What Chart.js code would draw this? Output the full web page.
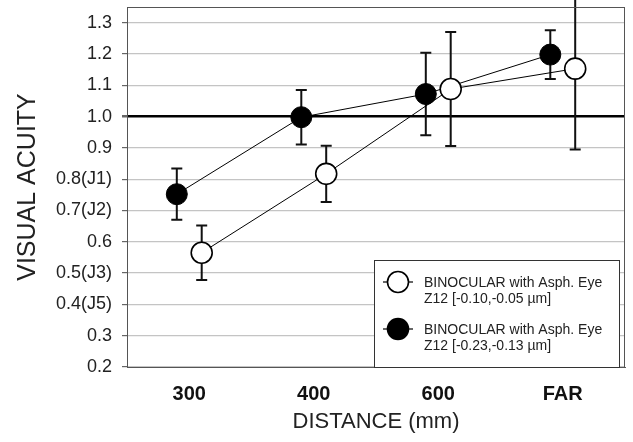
<!DOCTYPE html>
<html>
<head>
<meta charset="utf-8">
<script src="https://cdn.jsdelivr.net/npm/chart.js@4/dist/chart.umd.min.js"></script>
<style>
  html, body { margin: 0; padding: 0; background: #fff; }
  #wrap { width: 633px; height: 442px; }
</style>
</head>
<body>
<div id="wrap"><canvas id="chart" width="633" height="442"></canvas></div>
<script>
// --- Data ---
const categories = ["300", "400", "600", "FAR"];
const yTickValues = [0.2, 0.3, 0.4, 0.5, 0.6, 0.7, 0.8, 0.9, 1.0, 1.1, 1.2, 1.3];
const yTickLabels = ["0.2", "0.3", "0.4(J5)", "0.5(J3)", "0.6", "0.7(J2)", "0.8(J1)", "0.9", "1.0", "1.1", "1.2", "1.3"];

const openLabel = ["BINOCULAR with Asph. Eye", "Z12 [-0.10,-0.05 \u00b5m]"];
const openMeans = [0.565, 0.817, 1.088, 1.153];
const openErr = [0.087, 0.090, 0.182, 0.258];

const filledLabel = ["BINOCULAR with Asph. Eye", "Z12 [-0.23,-0.13 \u00b5m]"];
const filledMeans = [0.752, 0.998, 1.072, 1.198];
const filledErr = [0.082, 0.087, 0.132, 0.078];

// small horizontal shift so the two series don't overlap
const OPEN_SHIFT = 0.1;
const FILLED_SHIFT = -0.1;

function toPoints(means, errs, shift) {
  return means.map((v, i) => ({ x: i + 1 + shift, y: v, err: errs[i] }));
}

function noPadding(s) {
  s.paddingTop = 0;
  s.paddingBottom = 0;
  s.paddingLeft = 0;
  s.paddingRight = 0;
}

// --- Plugins ---
const errorBars = {
  id: "errorBars",
  beforeDatasetsDraw(chart) {
    const { ctx, scales: { x, y } } = chart;
    ctx.save();
    ctx.strokeStyle = "#111";
    ctx.lineWidth = 2;
    chart.data.datasets.forEach(ds => {
      ds.data.forEach(p => {
        const px = x.getPixelForValue(p.x);
        const top = y.getPixelForValue(p.y + p.err);
        const bot = y.getPixelForValue(p.y - p.err);
        ctx.beginPath();
        ctx.moveTo(px, top); ctx.lineTo(px, bot);
        ctx.moveTo(px - 5.5, top); ctx.lineTo(px + 5.5, top);
        ctx.moveTo(px - 5.5, bot); ctx.lineTo(px + 5.5, bot);
        ctx.stroke();
      });
    });
    ctx.restore();
  },
};

const frameAndLegend = {
  id: "frameAndLegend",
  afterDraw(chart) {
    const { ctx, chartArea: a } = chart;
    ctx.save();
    // plot frame
    ctx.strokeStyle = "#555";
    ctx.lineWidth = 1;
    ctx.strokeRect(a.left + 0.5, a.top + 0.5, a.right - a.left - 1, a.bottom - a.top);

    // legend box
    const bx = a.right - 251, by = a.bottom - 107, bw = 245, bh = 107;
    ctx.fillStyle = "#fff";
    ctx.fillRect(bx, by, bw, bh);
    ctx.strokeStyle = "#333";
    ctx.strokeRect(bx + 0.5, by + 0.5, bw, bh);

    const entries = [
      { label: openLabel, fill: "#fff", cy: by + 22 },
      { label: filledLabel, fill: "#000", cy: by + 69 },
    ];
    entries.forEach(e => {
      const cx = bx + 24;
      ctx.strokeStyle = "#000";
      ctx.lineWidth = 1.2;
      ctx.beginPath();
      ctx.moveTo(cx - 15, e.cy); ctx.lineTo(cx + 15, e.cy);
      ctx.stroke();
      ctx.beginPath();
      ctx.arc(cx, e.cy, 10.5, 0, Math.PI * 2);
      ctx.fillStyle = e.fill;
      ctx.fill();
      ctx.lineWidth = 1.6;
      ctx.stroke();
      ctx.fillStyle = "#222";
      ctx.font = "14px 'Liberation Sans', Arial, sans-serif";
      ctx.textBaseline = "middle";
      ctx.textAlign = "left";
      ctx.fillText(e.label[0], bx + 50, e.cy + 1);
      ctx.fillText(e.label[1], bx + 50, e.cy + 17);
    });
    ctx.restore();
  },
};

// --- Chart ---
const font = "'Liberation Sans', Arial, sans-serif";

new Chart(document.getElementById("chart"), {
  type: "line",
  data: {
    datasets: [
      {
        label: openLabel.join(" "),
        data: toPoints(openMeans, openErr, OPEN_SHIFT),
        borderColor: "#000",
        borderWidth: 1,
        pointRadius: 10.5,
        pointBackgroundColor: "#fff",
        pointBorderColor: "#000",
        pointBorderWidth: 1.6,
        tension: 0,
        clip: false,
      },
      {
        label: filledLabel.join(" "),
        data: toPoints(filledMeans, filledErr, FILLED_SHIFT),
        borderColor: "#000",
        borderWidth: 1,
        pointRadius: 10.5,
        pointBackgroundColor: "#000",
        pointBorderColor: "#000",
        pointBorderWidth: 1,
        tension: 0,
        clip: false,
      },
    ],
  },
  options: {
    responsive: false,
    animation: false,
    events: [],
    layout: { autoPadding: false, padding: { top: 7, right: 8, left: 0, bottom: 0 } },
    plugins: { legend: { display: false }, tooltip: { enabled: false } },
    scales: {
      x: {
        type: "linear",
        min: 0.5,
        max: 4.5,
        afterBuildTicks: s => { s.ticks = categories.map((c, i) => ({ value: i + 1 })); },
        afterFit: s => { s.height = 75; noPadding(s); },
        grid: { display: false, drawTicks: false },
        border: { display: true, color: "#555", width: 1 },
        ticks: {
          padding: 15,
          color: "#111",
          font: { family: font, size: 20, weight: "bold" },
          callback: v => categories[Math.round(v) - 1],
        },
        title: {
          display: true,
          text: "DISTANCE (mm)",
          color: "#222",
          font: { family: font, size: 22 },
          padding: { top: 0, bottom: 7 },
        },
      },
      y: {
        min: 0.2,
        max: 1.35,
        afterBuildTicks: s => { s.ticks = yTickValues.map(v => ({ value: v })); },
        afterFit: s => { s.width = 127; noPadding(s); },
        grid: {
          color: c => (Math.abs(c.tick.value - 1.0) < 1e-6 ? "#000" : "#c4c4c4"),
          lineWidth: c => (Math.abs(c.tick.value - 1.0) < 1e-6 ? 2.5 : 1.2),
          tickColor: "#666",
          tickLength: 5,
          drawTicks: true,
        },
        border: { display: true, color: "#555", width: 1 },
        ticks: {
          padding: 10,
          color: "#222",
          font: { family: font, size: 18 },
          callback: (v, i) => yTickLabels[i],
        },
        title: {
          display: true,
          text: "VISUAL ACUITY",
          color: "#222",
          font: { family: font, size: 25 },
          padding: { top: 13, bottom: 0 },
        },
      },
    },
  },
  plugins: [errorBars, frameAndLegend],
});
</script>
</body>
</html>
